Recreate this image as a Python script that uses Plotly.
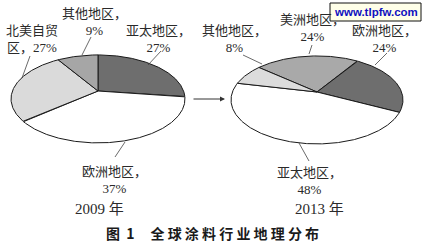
import numpy as np
import plotly.graph_objects as go

# ---------------- data ----------------
regions_2009 = ["亚太地区", "欧洲地区", "北美自贸区", "其他地区"]
share_2009 = [27, 37, 27, 9]
regions_2013 = ["美洲地区", "欧洲地区", "亚太地区", "其他地区"]
share_2013 = [24, 24, 48, 8]
years = ["2009 年", "2013 年"]
title_head = "图 1"
title_body = "全球涂料行业地理分布"
watermark = "www.tlpfw.com"

# ---------------- styles / layout ----------------
colors_2009 = ["#6e6e6e", "#ffffff", "#dadada", "#a6a6a6"]
colors_2013 = ["#a9a9a9", "#6e6e6e", "#ffffff", "#dcdcdc"]
TILT = 0.18  # perspective factor of the 3-D pie

pies = [
    dict(names=regions_2009, vals=share_2009, cols=colors_2009, apex=(98, 91), rx=87, ry=44, start=0,
         label_pos=[(158, 38.5), (114, 180), (32, 39), (94, 22)], wrap=[None, None, 4, None],
         year_pos=(99, 209)),
    dict(names=regions_2013, vals=share_2013, cols=colors_2013, apex=(317, 92), rx=86, ry=44, start=-50,
         label_pos=[(312, 28), (384, 39), (309, 181), (234, 38.5)], wrap=[None, None, None, None],
         year_pos=(319, 209)),
]

leaders = [
    ((82, 55), (91, 37)), ((22, 78), (30, 56)), ((148, 65), (161, 51)), ((125, 142), (115, 157)),
    ((262, 64), (243, 55)), ((309, 54), (312, 45)), ((375, 65), (387, 53)), ((299, 143), (309, 161)),
]

LAB_FONT = dict(family="Liberation Serif, Noto Sans CJK SC", size=13, color="#2a2a2a")

fig = go.Figure()


def wedge(apex, rx, ry, p1, p2):
    a = rx * np.sqrt(1 - TILT ** 2)
    b = ry * (1 - TILT ** 2)
    phi = np.radians(np.linspace(p1, p2, max(int(abs(p2 - p1) * 2), 4)))
    d = 1 + TILT * np.cos(phi)
    xs = apex[0] + a * np.sin(phi) / d
    ys = apex[1] - b * np.cos(phi) / d
    return [apex[0], *xs, apex[0]], [apex[1], *ys, apex[1]]


annotations = []
for pie in pies:
    total = sum(pie["vals"])
    cum = pie["start"]
    for name, v, col, pos, wr in zip(pie["names"], pie["vals"], pie["cols"], pie["label_pos"], pie["wrap"]):
        span = v / total * 360
        xs, ys = wedge(pie["apex"], pie["rx"], pie["ry"], cum, cum + span)
        cum += span
        fig.add_trace(go.Scatter(x=xs, y=ys, mode="lines", fill="toself", fillcolor=col,
                                 line=dict(color="#1a1a1a", width=1), hoverinfo="skip", showlegend=False))
        if wr:
            txt = f"{name[:wr]}<br>{name[wr:]}，{v}%"
        else:
            txt = f"{name}，<br>{v}%"
        annotations.append(dict(x=pos[0], y=pos[1], text=txt, showarrow=False, font=LAB_FONT,
                                xanchor="center", yanchor="middle", align="center"))

for yr, pie in zip(years, pies):
    annotations.append(dict(x=pie["year_pos"][0], y=pie["year_pos"][1], text=yr.replace(" ", "\u00a0"),
                            showarrow=False,
                            font=dict(family="Liberation Serif, Noto Sans CJK SC", size=15, color="#2a2a2a"),
                            xanchor="center", yanchor="middle"))

# title
NB = "\u00a0"
title_txt = title_head.replace(" ", NB * 2) + NB * 5 + NB.join(title_body)
annotations.append(dict(x=212, y=233, text="<b>" + title_txt + "</b>", showarrow=False,
                        font=dict(family="Noto Sans CJK SC", size=14, color="#1a1a1a"),
                        xanchor="center", yanchor="middle"))

# arrow between pies
annotations.append(dict(x=225, y=99, ax=192, ay=99, xref="x", yref="y", axref="x", ayref="y", text="",
                        showarrow=True, arrowhead=2, arrowsize=1, arrowwidth=1, arrowcolor="#333333"))

# watermark
annotations.append(dict(x=375.5, y=12, text="<b>" + watermark + "</b>", showarrow=False,
                        font=dict(family="Liberation Sans", size=11.5, color="#1010c0"),
                        xanchor="center", yanchor="middle"))

shapes = [dict(type="line", x0=p[0], y0=p[1], x1=q[0], y1=q[1], line=dict(color="#444444", width=0.8))
          for p, q in leaders]
shapes.append(dict(type="rect", x0=330, y0=3, x1=421, y1=21, fillcolor="#ffffe8",
                   line=dict(color="#111111", width=1), layer="above"))

fig.update_layout(
    width=424, height=242, margin=dict(l=0, r=0, t=0, b=0),
    paper_bgcolor="white", plot_bgcolor="white",
    xaxis=dict(range=[0, 424], visible=False, fixedrange=True),
    yaxis=dict(range=[242, 0], visible=False, fixedrange=True),
    annotations=annotations, shapes=shapes, showlegend=False,
)

fig.write_html("out.html")
